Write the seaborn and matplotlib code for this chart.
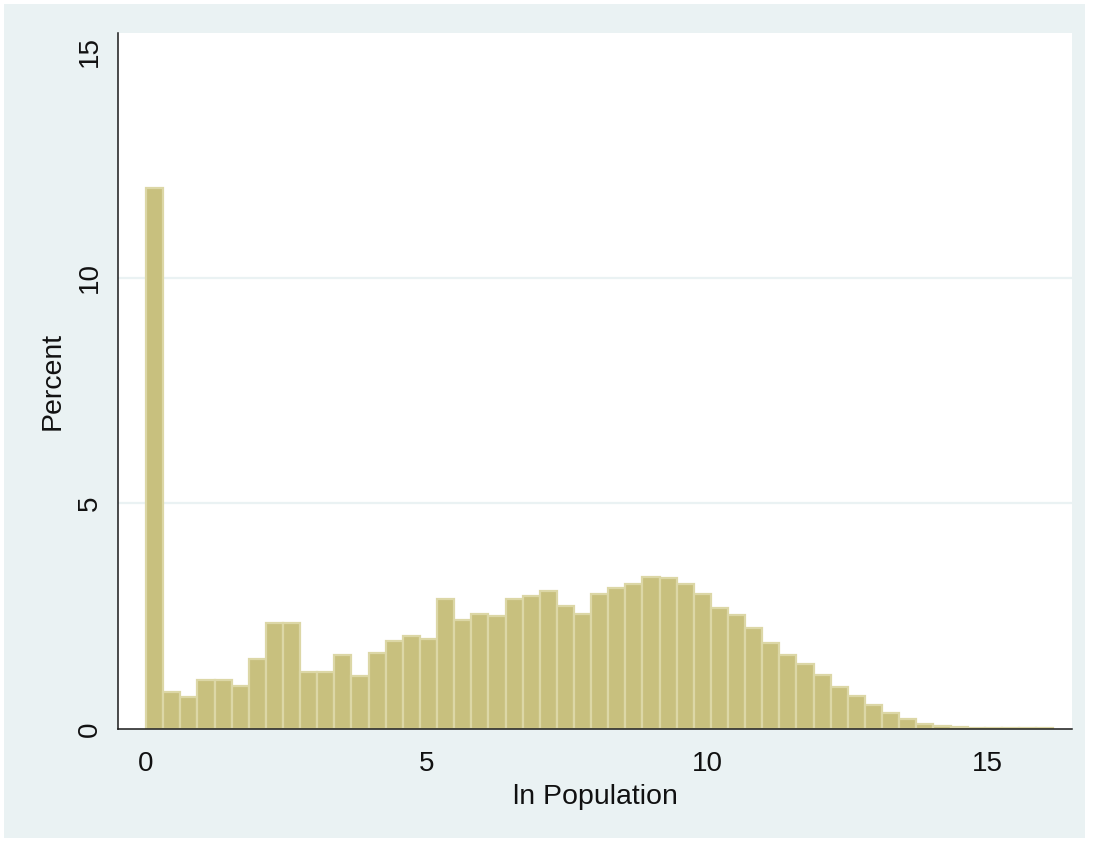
import numpy as np
import pandas as pd
import matplotlib
matplotlib.use("Agg")
import matplotlib.pyplot as plt
import seaborn as sns

# Histogram of ln population: 53 equal-width bins starting at 0
bin_start = 0.0
bin_width = 0.305
n_bins = 53
percent = [
    11.98, 0.83, 0.70, 1.09, 1.09, 0.95, 1.54, 2.34, 2.34, 1.27,
    1.27, 1.63, 1.17, 1.69, 1.94, 2.07, 1.99, 2.88, 2.42, 2.54,
    2.51, 2.88, 2.95, 3.06, 2.73, 2.54, 3.00, 3.12, 3.21, 3.37,
    3.34, 3.21, 3.00, 2.67, 2.53, 2.23, 1.90, 1.63, 1.44, 1.20,
    0.94, 0.74, 0.53, 0.36, 0.23, 0.12, 0.07, 0.04, 0.03, 0.02,
    0.02, 0.02, 0.02,
]
x_ticks = [0, 5, 10, 15]
y_ticks = [0, 5, 10, 15]
x_label = "ln Population"
y_label = "Percent"

edges = bin_start + bin_width * np.arange(n_bins + 1)
centers = (edges[:-1] + edges[1:]) / 2
df = pd.DataFrame({"lnpop": centers, "pct": percent})

bg = "#EAF2F3"
sns.set_theme(style="white")
plt.rcParams["font.family"] = ["Liberation Sans", "DejaVu Sans"]

fig = plt.figure(figsize=(10.94, 8.42), dpi=100, facecolor="white")
fig.add_artist(plt.Rectangle((0.004, 0.005), 0.988, 0.99, transform=fig.transFigure,
                             facecolor=bg, edgecolor="none", zorder=-10))
ax = fig.add_axes([0.1079, 0.1342, 0.8720, 0.8266])
ax.set_zorder(1)
ax.set_facecolor("white")

# interior grid lines only (none at the axis or at the top tick)
for yv in y_ticks[1:-1]:
    ax.axhline(yv, color=bg, linewidth=1.6, zorder=0)

sns.histplot(data=df, x="lnpop", weights="pct", binwidth=bin_width,
             binrange=(edges[0], edges[-1]), stat="count",
             color="#C8C07E", edgecolor="#DCD7A6", linewidth=1.6, alpha=1.0, ax=ax)

ax.set_xlim(-0.5, 16.5)
ax.set_ylim(0, 15.42)
ax.set_yticks(y_ticks)
ax.set_xticks(x_ticks)
ax.grid(False)

for side in ["top", "right"]:
    ax.spines[side].set_visible(False)
for side in ["left", "bottom"]:
    ax.spines[side].set_color("#1a1a1a")
    ax.spines[side].set_linewidth(1.1)

ax.tick_params(axis="both", which="major", direction="out", length=7, width=1.1,
               color="#333333", labelsize=20, labelcolor="#111111")
ax.tick_params(axis="x", pad=9)
ax.tick_params(axis="y", pad=4)
for lab in ax.get_yticklabels():
    lab.set_rotation(90)
    lab.set_va("center")

ax.set_xlabel(x_label, fontsize=20.5, color="#111111", labelpad=5)
ax.set_ylabel(y_label, fontsize=20.5, color="#111111", labelpad=8)

fig.savefig("out.png", dpi=100, facecolor="white")
